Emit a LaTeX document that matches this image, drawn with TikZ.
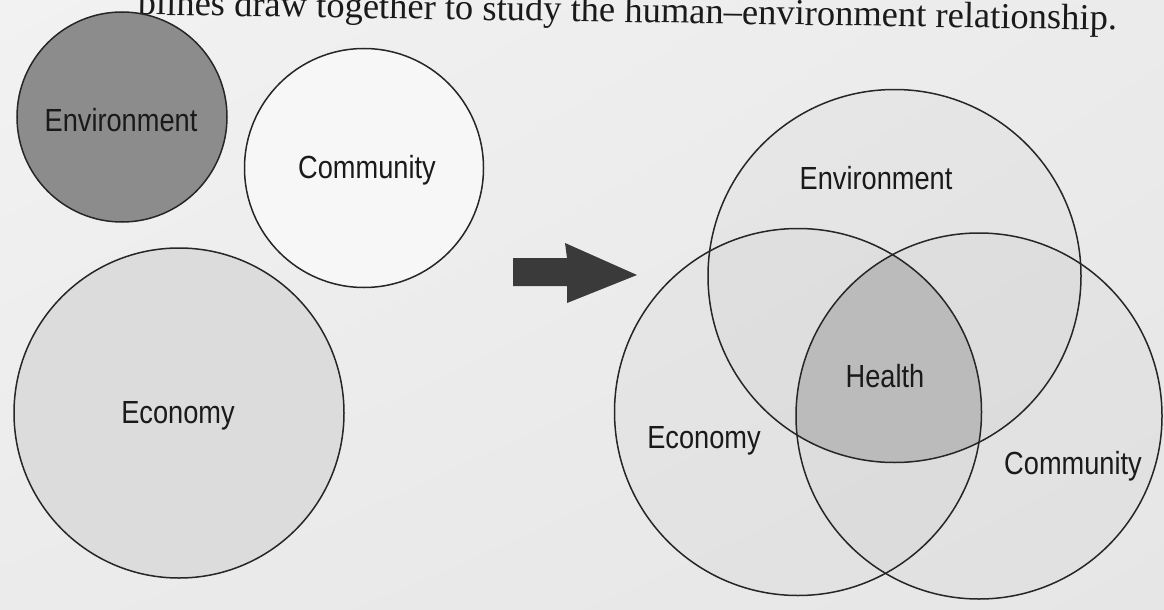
\documentclass[tikz,border=0pt]{standalone}
\usepackage{fontspec}
\usetikzlibrary{shadings}
\setmainfont{Liberation Serif}
\newfontfamily\labfont[FakeStretch=0.85]{Liberation Sans}
\definecolor{paperA}{HTML}{F2F2F2}
\definecolor{paperB}{HTML}{EBEBEB}
\definecolor{paperC}{HTML}{E6E6E6}
\definecolor{envgray}{HTML}{8C8C8C}
\definecolor{comfill}{HTML}{F7F7F7}
\definecolor{ecofill}{HTML}{DCDCDC}
\definecolor{healthc}{HTML}{BBBBBB}
\definecolor{arrowc}{HTML}{3A3A3A}
\definecolor{linec}{HTML}{262626}
\definecolor{textc}{HTML}{1A1A1A}
\begin{document}
\begin{tikzpicture}[x=1pt,y=-1pt,
  ring/.style={circle, draw=linec, line width=1.5pt, inner sep=0pt},
  lab/.style={font=\labfont\fontsize{32}{36}\selectfont, text=textc, inner sep=0pt},
  venntint/.style={fill=black, fill opacity=0.022}
]
\shade[upper left=paperA, upper right=paperB, lower left=paperB, lower right=paperC] (0,0) rectangle (1164,610);
\useasboundingbox (0,0) rectangle (1164,610);
\begin{scope}
\clip (0,0) rectangle (1164,610);
% caption fragment (cut by the top edge of the photo)
\node[font=\fontsize{36.5}{40}\selectfont, text=textc, anchor=base east, rotate=-0.9, inner sep=0pt] (caption) at (1117,30)
  {plines draw together to study the human\textendash environment relationship.};

% left: separate spheres
\node[ring, fill=envgray, minimum size=210pt] (envL) at (122,117) {};
\node[ring, fill=comfill, minimum size=239pt] (comL) at (364,168) {};
\node[ring, fill=ecofill, minimum size=330pt] (ecoL) at (179,413) {};
\node[lab] (envLt) at (121,120) {Environment};
\node[lab] (comLt) at (367,170) {Community};
\node[lab] (ecoLt) at (178,416) {Economy};

% arrow
\fill[arrowc] (513,258) -- (567,258) -- (565,243) -- (637,275) -- (567,303) -- (567,286) -- (513,286) -- cycle;

% right: Venn diagram
\coordinate (cEnv) at (894.5,276);
\coordinate (cEco) at (798,412);
\coordinate (cCom) at (979,416);
\fill[venntint] (cEnv) circle [radius=186.5pt];
\fill[venntint] (cEco) circle [radius=183.5pt];
\fill[venntint] (cCom) circle [radius=183pt];
\begin{scope}
  \clip (cEnv) circle [radius=186.5pt];
  \clip (cEco) circle [radius=183.5pt];
  \fill[healthc] (cCom) circle [radius=183pt];
\end{scope}
\node[ring, minimum size=373pt] (envR) at (cEnv) {};
\node[ring, minimum size=367pt] (ecoR) at (cEco) {};
\node[ring, minimum size=366pt] (comR) at (cCom) {};
\node[lab] (envRt) at (876,178) {Environment};
\node[lab] (healthRt) at (885,376) {Health};
\node[lab] (ecoRt) at (704,441) {Economy};
\node[lab] (comRt) at (1073,466) {Community};
\end{scope}
\end{tikzpicture}
\end{document}
